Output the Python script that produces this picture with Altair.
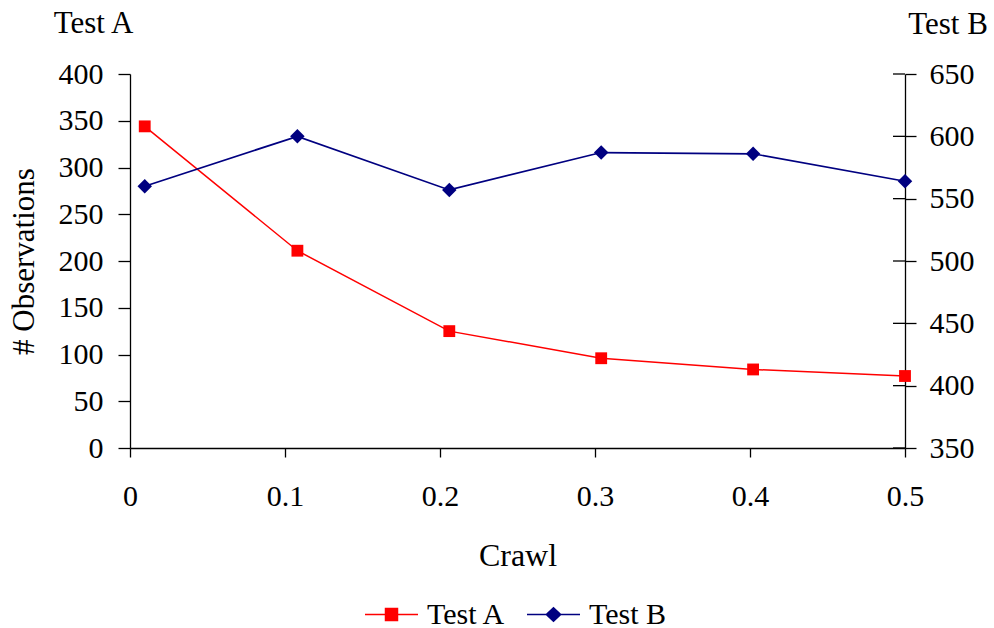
import altair as alt
import pandas as pd

# ---- data ----
crawl = [0.0095, 0.108, 0.206, 0.304, 0.402, 0.5]
test_a = [344, 211, 125, 96, 84, 77]
test_b = [560, 600, 557, 587, 586, 564]
x_ticks = [0, 0.1, 0.2, 0.3, 0.4, 0.5]
left_ticks = [0, 50, 100, 150, 200, 250, 300, 350, 400]
right_ticks = [350, 400, 450, 500, 550, 600, 650]

FONT = "Liberation Serif"
RED = "#FF0000"
NAVY = "#000080"
W, H = 775, 374

df_a = pd.DataFrame({"crawl": crawl, "value": test_a, "series": ["Test A"] * len(crawl)})
df_b = pd.DataFrame({"crawl": crawl, "value": test_b, "series": ["Test B"] * len(crawl)})
df_rt = pd.DataFrame({"tick": right_ticks})
df_lbl = pd.DataFrame({"label": ["Test A"]})

x_scale = alt.Scale(domain=[0, 0.5], nice=False, zero=False)
yl_scale = alt.Scale(domain=[0, 400], nice=False)
yr_scale = alt.Scale(domain=[350, 650], nice=False, zero=False)

x_axis = alt.Axis(values=x_ticks, format="~g", title="Crawl", grid=False,
                  tickSize=9, labelPadding=48, labelBaseline="alphabetic",
                  labelFlush=False, labelFontSize=30, titleFontSize=32,
                  titleX=W / 2, titleY=117, titleAlign="center",
                  titleBaseline="alphabetic")
yl_axis = alt.Axis(values=left_ticks, title="# Observations", grid=False,
                   tickSize=12, labelPadding=15, labelFontSize=30,
                   labelFlush=False,
                   titleFontSize=31, titleAngle=270, titleX=-97, titleY=H / 2,
                   titleAlign="center", titleBaseline="alphabetic")
yr_axis = alt.Axis(values=right_ticks, orient="right", title="Test B", grid=False,
                   tickSize=11, labelPadding=13, labelFontSize=30,
                   labelFlush=False,
                   titleFontSize=31, titleAngle=0, titleX=42.5, titleY=-41,
                   titleAlign="center", titleBaseline="alphabetic")

PATH_A = "M-1,0L1,0M-0.226,-0.226L0.226,-0.226L0.226,0.226L-0.226,0.226Z"
PATH_B = "M-1,0L1,0M0,-0.25L0.27,0L0,0.25L-0.27,0Z"


def legend(path, color, lx):
    return alt.Legend(title=None, orient="none", legendX=lx, legendY=513,
                      symbolType=path, symbolSize=2809,
                      symbolStrokeColor=color, symbolStrokeWidth=1.5,
                      labelFont=FONT, labelFontSize=30, labelColor="black",
                      labelOffset=8, padding=0)


X = alt.X("crawl:Q", scale=x_scale, axis=x_axis)

line_a = alt.Chart(df_a).mark_line(color=RED, strokeWidth=1.5).encode(
    x=X,
    y=alt.Y("value:Q", scale=yl_scale, axis=yl_axis),
)
pts_a = alt.Chart(df_a).mark_point(shape="square", filled=True, size=140, opacity=1).encode(
    x=X,
    y=alt.Y("value:Q", scale=yl_scale, axis=None),
    color=alt.Color("series:N", scale=alt.Scale(domain=["Test A"], range=[RED]),
                    legend=legend(PATH_A, RED, 234)),
)
lbl_a = alt.Chart(df_lbl).mark_text(font=FONT, fontSize=31, align="center",
                                     baseline="alphabetic", color="black").encode(
    x=alt.value(-36.5), y=alt.value(-41), text="label:N")

line_b = alt.Chart(df_b).mark_line(color=NAVY, strokeWidth=1.7).encode(
    x=X,
    y=alt.Y("value:Q", scale=yr_scale, axis=yr_axis),
)
pts_b = alt.Chart(df_b).mark_point(shape="diamond", filled=True, size=210, opacity=1).encode(
    x=X,
    y=alt.Y("value:Q", scale=yr_scale, axis=None),
    color=alt.Color("series:N", scale=alt.Scale(domain=["Test B"], range=[NAVY]),
                    legend=legend(PATH_B, NAVY, 396)),
)
inner_ticks = alt.Chart(df_rt).mark_rule(color="black", strokeWidth=1.3).encode(
    x=alt.value(W - 12), x2=alt.value(W),
    y=alt.Y("tick:Q", scale=yr_scale, axis=None),
)

chart = alt.layer(line_a, pts_a, lbl_a, line_b, pts_b, inner_ticks).resolve_scale(
    y="independent", color="independent"
).properties(
    width=W, height=H,
    autosize=alt.AutoSizeParams(type="none"),
    padding={"left": 130, "top": 74, "right": 89, "bottom": 180},
    background="white",
).configure_view(stroke=None).configure_axis(
    labelFont=FONT, titleFont=FONT, labelColor="black", titleColor="black",
    titleFontWeight="normal", domainColor="black", tickColor="black",
    domainWidth=1.3, tickWidth=1.3,
)

chart.save("out.html", embed_options={"renderer": "svg", "actions": False})
